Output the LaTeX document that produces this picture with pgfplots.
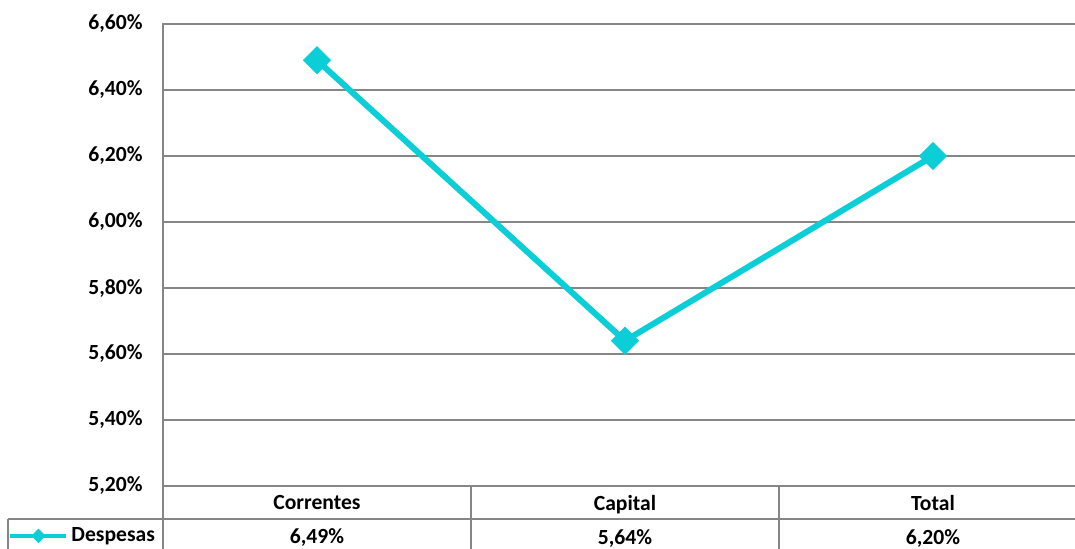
\documentclass[border=0pt]{standalone}
\usepackage{fontspec}
\setmainfont{Carlito}
\usepackage{pgfplots}
\pgfplotsset{compat=1.18}
\definecolor{linec}{RGB}{12,206,214}
\definecolor{gridc}{RGB}{134,134,134}
\begin{document}
\begin{tikzpicture}
\begin{axis}[
  at={(0,0)}, anchor=south west,
  scale only axis, width=462pt, height=231pt,
  xmin=-0.5, xmax=2.5, ymin=5.2, ymax=6.6,
  xtick={0,1,2},
  xticklabels={{Correntes\\6,49\%},{Capital\\5,64\%},{Total\\6,20\%}},
  ytick={5.2,5.4,5.6,5.8,6.0,6.2,6.4,6.6},
  yticklabels={{5,20\%},{5,40\%},{5,60\%},{5,80\%},{6,00\%},{6,20\%},{6,40\%},{6,60\%}},
  major tick length=0pt,
  ymajorgrids, grid style={gridc, line width=1pt},
  axis line style={gridc, line width=1pt},
  clip=false,
  yticklabel style={font=\fontsize{10.8}{12}\selectfont\bfseries, inner sep=0pt, anchor=east, xshift=-10pt},
  xticklabel style={font=\fontsize{10.8}{17}\selectfont\bfseries, align=center, inner sep=0pt, anchor=north, yshift=-4.3pt},
  legend style={draw=none, fill=none, inner sep=0pt, outer sep=0pt,
    at={(axis description cs:-0.0055,-0.108)}, anchor=east,
    nodes={inner sep=1.5pt, font=\fontsize{10.8}{12}\selectfont\bfseries}},
  legend image code/.code={\draw[#1, line width=2pt, mark options={rotate=45, solid, fill=linec, scale=0.45}, mark repeat=2, mark phase=2] plot coordinates {(0pt,0pt) (14pt,0pt) (28pt,0pt)};},
]
\addplot[linec, line width=3pt, mark=square*, mark size=3.5pt, mark options={rotate=45, solid, fill=linec}]
  coordinates {(0,6.49) (1,5.64) (2,6.20)};
\addlegendentry{Despesas}
% data table rules
\draw[gridc, line width=1pt] (axis description cs:0,0) -- (axis description cs:0,-0.16);
\draw[gridc, line width=1pt] (axis cs:0.5,5.2) -- ([yshift=-40pt]axis cs:0.5,5.2);
\draw[gridc, line width=1pt] (axis cs:1.5,5.2) -- ([yshift=-40pt]axis cs:1.5,5.2);
\draw[gridc, line width=1pt] (axis cs:2.5,5.2) -- ([yshift=-40pt]axis cs:2.5,5.2);
\draw[gridc, line width=1pt] (axis description cs:-0.1677,-0.0714) -- (axis description cs:1,-0.0714);
\draw[gridc, line width=1pt] (axis description cs:-0.1677,-0.0714) -- (axis description cs:-0.1677,-0.16);
\end{axis}
\pgfresetboundingbox
\useasboundingbox (-81.5pt,-31pt) rectangle (456pt,243pt);
\end{tikzpicture}
\end{document}
